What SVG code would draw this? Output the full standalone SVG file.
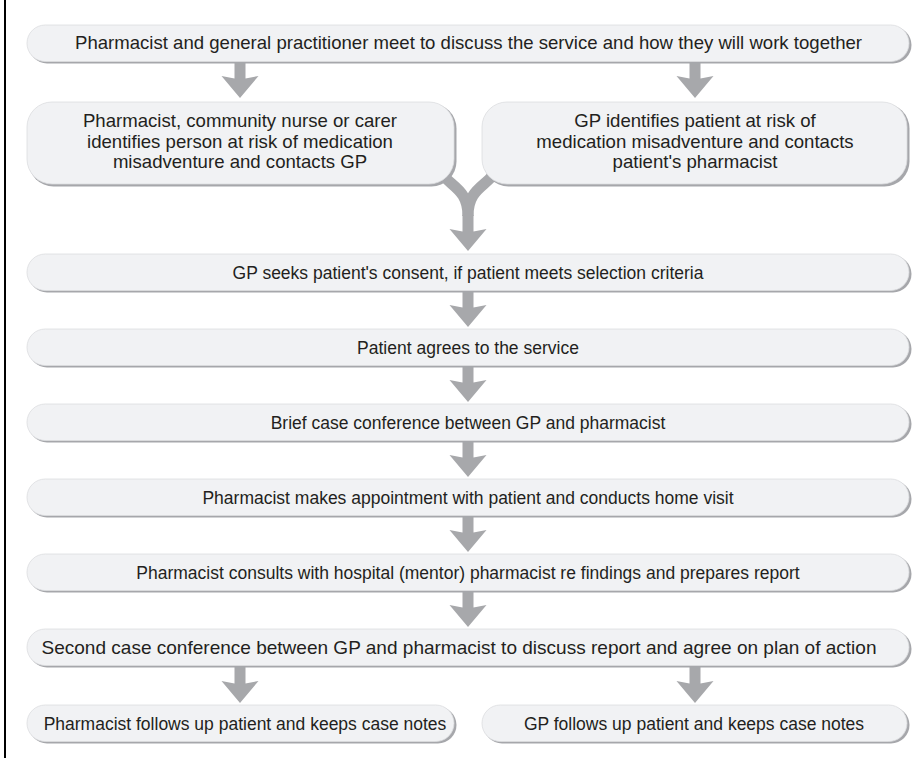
<svg xmlns="http://www.w3.org/2000/svg" xmlns:xlink="http://www.w3.org/1999/xlink" width="923" height="758" viewBox="0 0 923 758">
<style>
  .shadow { fill: #a6a7ab; }
  .box { fill: #f1f2f4; stroke: #dcdde0; stroke-width: 0.8; }
  .t { font-family: "Liberation Sans", Arial, sans-serif; font-size: 17.5px; fill: #231f20; text-anchor: middle; }
  .big { font-size: 18.6px; }
  .arrow { fill: #a7a8ab; }
  .branch { fill: none; stroke: #a7a8ab; stroke-width: 11; }
</style>
<defs>
  <path id="arr" d="M-5.5,0 L5.5,0 L5.5,16.5 L18.5,14 L0,36 L-18.5,14 L-5.5,16.5 Z"/>
</defs>
<rect width="923" height="758" fill="#ffffff"/>
<line x1="5" y1="0" x2="5" y2="758" stroke="#000000" stroke-width="2"/>

<g id="connectors" class="arrow">
  <use xlink:href="#arr" href="#arr" x="240" y="62"/>
  <use xlink:href="#arr" href="#arr" x="695" y="62"/>
  <path class="branch" d="M443,175 C452,187 468,190 468,216"/>
  <path class="branch" d="M493,175 C484,187 468,190 468,216"/>
  <use xlink:href="#arr" href="#arr" x="468" y="215"/>
  <use xlink:href="#arr" href="#arr" x="468" y="291"/>
  <use xlink:href="#arr" href="#arr" x="468" y="366"/>
  <use xlink:href="#arr" href="#arr" x="468" y="441"/>
  <use xlink:href="#arr" href="#arr" x="468" y="516"/>
  <use xlink:href="#arr" href="#arr" x="468" y="591"/>
  <use xlink:href="#arr" href="#arr" x="240" y="667"/>
  <use xlink:href="#arr" href="#arr" x="695" y="667"/>
</g>

<g id="n1">
  <rect class="shadow" x="28.5" y="26.5" width="883" height="37" rx="18.5"/>
  <rect class="box" x="27" y="25" width="882" height="36.5" rx="18.25"/>
  <text class="t big" x="468.5" y="49" textLength="787" lengthAdjust="spacingAndGlyphs">Pharmacist and general practitioner meet to discuss the service and how they will work together</text>
</g>
<g id="n2">
  <rect class="shadow" x="28.5" y="103.5" width="428" height="83" rx="25"/>
  <rect class="box" x="27" y="102" width="427" height="82" rx="25"/>
  <text class="t big" x="240" y="127">Pharmacist, community nurse or carer</text>
  <text class="t big" x="240" y="147.5">identifies person at risk of medication</text>
  <text class="t big" x="240" y="168">misadventure and contacts GP</text>
</g>
<g id="n3">
  <rect class="shadow" x="483.5" y="103.5" width="426" height="83" rx="25"/>
  <rect class="box" x="482" y="102" width="425" height="82" rx="25"/>
  <text class="t big" x="695" y="127">GP identifies patient at risk of</text>
  <text class="t big" x="695" y="147.5">medication misadventure and contacts</text>
  <text class="t big" x="695" y="168">patient's pharmacist</text>
</g>
<g id="n4">
  <rect class="shadow" x="28.5" y="255.5" width="883" height="37" rx="18.5"/>
  <rect class="box" x="27" y="254" width="882" height="36.5" rx="18.25"/>
  <text class="t" x="468" y="278.5">GP seeks patient's consent, if patient meets selection criteria</text>
</g>
<g id="n5">
  <rect class="shadow" x="28.5" y="330.5" width="883" height="37" rx="18.5"/>
  <rect class="box" x="27" y="329" width="882" height="36.5" rx="18.25"/>
  <text class="t" x="468" y="353.5">Patient agrees to the service</text>
</g>
<g id="n6">
  <rect class="shadow" x="28.5" y="405.5" width="883" height="37" rx="18.5"/>
  <rect class="box" x="27" y="404" width="882" height="36.5" rx="18.25"/>
  <text class="t" x="468" y="428.5">Brief case conference between GP and pharmacist</text>
</g>
<g id="n7">
  <rect class="shadow" x="28.5" y="480.5" width="883" height="37" rx="18.5"/>
  <rect class="box" x="27" y="479" width="882" height="36.5" rx="18.25"/>
  <text class="t" x="468" y="503.5">Pharmacist makes appointment with patient and conducts home visit</text>
</g>
<g id="n8">
  <rect class="shadow" x="28.5" y="555.5" width="883" height="37" rx="18.5"/>
  <rect class="box" x="27" y="554" width="882" height="36.5" rx="18.25"/>
  <text class="t" x="468" y="578.5">Pharmacist consults with hospital (mentor) pharmacist re findings and prepares report</text>
</g>
<g id="n9">
  <rect class="shadow" x="28.5" y="630.5" width="883" height="37" rx="18.5"/>
  <rect class="box" x="27" y="629" width="882" height="36.5" rx="18.25"/>
  <text class="t big" x="459" y="653.5" textLength="835" lengthAdjust="spacingAndGlyphs">Second case conference between GP and pharmacist to discuss report and agree on plan of action</text>
</g>
<g id="n10">
  <rect class="shadow" x="28.5" y="706.5" width="428" height="37" rx="18.5"/>
  <rect class="box" x="27" y="705" width="427" height="36.5" rx="18.25"/>
  <text class="t" x="245" y="729.5">Pharmacist follows up patient and keeps case notes</text>
</g>
<g id="n11">
  <rect class="shadow" x="483.5" y="706.5" width="426" height="37" rx="18.5"/>
  <rect class="box" x="482" y="705" width="425" height="36.5" rx="18.25"/>
  <text class="t" x="694" y="729.5">GP follows up patient and keeps case notes</text>
</g>
</svg>
